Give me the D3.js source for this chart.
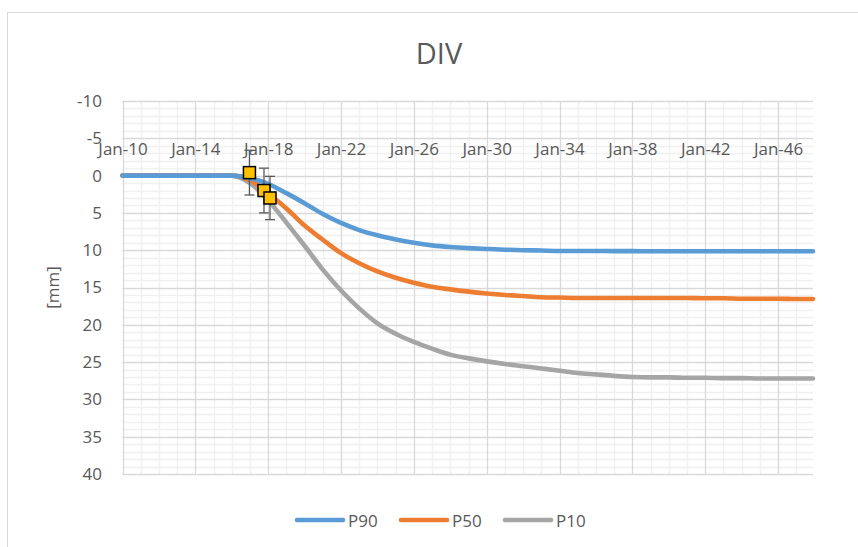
<!DOCTYPE html>
<html>
<head>
<meta charset="utf-8">
<script src="https://cdn.jsdelivr.net/npm/d3@7"></script>
<style>
  html, body { margin: 0; padding: 0; background: #fff; }
  svg { display: block; }
  text { font-family: "Open Sans", "Liberation Sans", sans-serif; fill: #595959; }
</style>
</head>
<body>
<svg id="chart" width="858" height="547"></svg>
<script>
// ---- data ----
const title = "DIV";
const yLabel = "[mm]";
const seriesNames = ["P90", "P50", "P10"];
const seriesColors = ["#5B9BD5", "#ED7D31", "#A5A5A5"];
// decimal years of the samples
const years = [2010, 2011, 2012, 2013, 2014, 2015, 2016, 2017, 2018, 2019, 2020, 2021, 2022, 2023, 2024, 2025, 2026, 2027, 2028, 2029, 2030, 2031, 2032, 2033, 2034, 2035, 2036, 2037, 2038, 2039, 2040, 2041, 2042, 2043, 2044, 2045, 2046, 2047, 2047.92];
const p90 = [0, 0, 0, 0, 0, 0, 0, 0.35, 1.1, 2.35, 3.7, 5.15, 6.35, 7.3, 8.0, 8.55, 9.0, 9.35, 9.57, 9.72, 9.83, 9.93, 10.0, 10.05, 10.1, 10.1, 10.1, 10.12, 10.12, 10.15, 10.15, 10.15, 10.15, 10.15, 10.15, 10.15, 10.15, 10.15, 10.15];
const p50 = [0, 0, 0, 0, 0, 0, 0, 0.6, 2.4, 4.4, 6.7, 8.6, 10.4, 11.75, 12.85, 13.7, 14.35, 14.9, 15.25, 15.55, 15.8, 16.0, 16.15, 16.3, 16.35, 16.4, 16.4, 16.4, 16.4, 16.4, 16.4, 16.4, 16.45, 16.45, 16.5, 16.5, 16.5, 16.55, 16.55];
const p10 = [0, 0, 0, 0, 0, 0, 0, 1.0, 3.3, 6.3, 9.4, 12.6, 15.4, 17.8, 19.8, 21.2, 22.3, 23.2, 24.0, 24.5, 24.9, 25.25, 25.55, 25.85, 26.15, 26.45, 26.65, 26.85, 27.0, 27.05, 27.05, 27.1, 27.1, 27.15, 27.15, 27.2, 27.2, 27.2, 27.2];
// measured points with error bars
const obsYears = [2016.97, 2017.77, 2018.1];
const obsValues = [-0.4, 2.0, 3.0];
const obsErrors = [3, 3, 2.9];
// tick labels
const xTickYears = [2010, 2014, 2018, 2022, 2026, 2030, 2034, 2038, 2042, 2046];
const yTicks = [-10, -5, 0, 5, 10, 15, 20, 25, 30, 35, 40];

// ---- helpers ----
function yearToDate(y) {
  const yi = Math.floor(y);
  const start = new Date(yi, 0, 1), end = new Date(yi + 1, 0, 1);
  return new Date(start.getTime() + (y - yi) * (end - start));
}

const svg = d3.select("#chart");
const plot = { left: 122.5, right: 813, top: 101, bottom: 474 };

// chart frame (extends beyond the visible window on the right/bottom)
svg.append("rect").attr("x", 7.5).attr("y", 12.5).attr("width", 880).attr("height", 560)
  .attr("fill", "#fff").attr("stroke", "#d9d9d9").attr("stroke-width", 1);

const x = d3.scaleTime()
  .domain([yearToDate(years[0]), yearToDate(years[years.length - 1])])
  .range([plot.left, plot.right]);
const y = d3.scaleLinear().domain([-10, 40]).range([plot.top, plot.bottom]);

const grid = svg.append("g");
// minor horizontal gridlines
grid.selectAll("line.ymin").data(d3.range(-10, 41, 1).filter(v => v % 5 !== 0))
  .join("line").attr("x1", plot.left).attr("x2", plot.right)
  .attr("y1", d => Math.round(y(d)) + 0.5).attr("y2", d => Math.round(y(d)) + 0.5)
  .attr("stroke", "#f0f0f0").attr("stroke-width", 1.3);
// minor vertical gridlines (yearly)
const minorYears = d3.range(2010, 2048).filter(v => (v - 2010) % 4 !== 0);
grid.selectAll("line.xmin").data(minorYears)
  .join("line").attr("y1", plot.top).attr("y2", plot.bottom)
  .attr("x1", d => Math.round(x(yearToDate(d))) + 0.5).attr("x2", d => Math.round(x(yearToDate(d))) + 0.5)
  .attr("stroke", "#f0f0f0").attr("stroke-width", 1.3);
// major horizontal gridlines
grid.selectAll("line.ymaj").data(yTicks)
  .join("line").attr("x1", plot.left).attr("x2", plot.right)
  .attr("y1", d => Math.round(y(d)) + 0.5).attr("y2", d => Math.round(y(d)) + 0.5)
  .attr("stroke", "#d9d9d9").attr("stroke-width", 1.3);
// major vertical gridlines
grid.selectAll("line.xmaj").data(xTickYears)
  .join("line").attr("y1", plot.top).attr("y2", plot.bottom)
  .attr("x1", d => Math.round(x(yearToDate(d))) + 0.5).attr("x2", d => Math.round(x(yearToDate(d))) + 0.5)
  .attr("stroke", "#d9d9d9").attr("stroke-width", 1.3);

// y axis labels
const yAxis = d3.axisLeft(y).tickValues(yTicks).tickSize(0).tickPadding(0).tickFormat(d => String(d));
const yg = svg.append("g").attr("transform", `translate(${102},0)`).call(yAxis);
yg.select(".domain").remove();
yg.selectAll("text").attr("font-size", 17).attr("fill", "#595959")
  .attr("font-family", '"Open Sans", sans-serif');

// x axis labels (above the zero line)
const xAxis = d3.axisTop(x).tickValues(xTickYears.map(yearToDate)).tickSize(0).tickPadding(0)
  .tickFormat(d3.timeFormat("%b-%y"));
const xg = svg.append("g").attr("transform", `translate(0,${y(0) - 21})`).call(xAxis);
xg.select(".domain").remove();
xg.selectAll("text").attr("font-size", 17).attr("fill", "#595959")
  .attr("font-family", '"Open Sans", sans-serif');

// series lines
const allSeries = [p90, p50, p10];
const line = d3.line().curve(d3.curveMonotoneX)
  .x((d, i) => x(yearToDate(years[i]))).y(d => y(d));
svg.append("g").selectAll("path").data(allSeries.slice().reverse())
  .join("path")
  .attr("d", d => line(d))
  .attr("fill", "none")
  .attr("stroke", (d, i) => seriesColors[2 - i])
  .attr("stroke-width", 4.6)
  .attr("stroke-linecap", "round").attr("stroke-linejoin", "round");

// error bars and markers
const obs = obsYears.map((yr, i) => ({ x: x(yearToDate(yr)), v: obsValues[i], e: obsErrors[i] }));
const eb = svg.append("g").attr("stroke", "#595959").attr("stroke-width", 1.3);
obs.forEach(o => {
  eb.append("line").attr("x1", o.x).attr("x2", o.x).attr("y1", y(o.v - o.e)).attr("y2", y(o.v + o.e));
  eb.append("line").attr("x1", o.x - 5).attr("x2", o.x + 5).attr("y1", y(o.v - o.e)).attr("y2", y(o.v - o.e));
  eb.append("line").attr("x1", o.x - 5).attr("x2", o.x + 5).attr("y1", y(o.v + o.e)).attr("y2", y(o.v + o.e));
});
svg.append("g").selectAll("rect").data(obs).join("rect")
  .attr("x", d => d.x - 6).attr("y", d => y(d.v) - 6)
  .attr("width", 12).attr("height", 12)
  .attr("fill", "#FFC000").attr("stroke", "#000").attr("stroke-width", 1.5);

// title
svg.append("text").attr("x", 439).attr("y", 63.5).attr("text-anchor", "middle")
  .attr("font-size", 29).text(title);

// y axis title
svg.append("text").attr("transform", `translate(59,${(plot.top + plot.bottom) / 2}) rotate(-90)`)
  .attr("text-anchor", "middle").attr("font-size", 17).text(yLabel);

// legend
const leg = svg.append("g");
seriesNames.forEach((name, i) => {
  const lx = 295 + i * 104;
  leg.append("line").attr("x1", lx + 2).attr("x2", lx + 48).attr("y1", 520).attr("y2", 520)
    .attr("stroke", seriesColors[i]).attr("stroke-width", 4.6).attr("stroke-linecap", "round");
  leg.append("text").attr("x", lx + 53).attr("y", 526.5).attr("font-size", 17).text(name);
});
</script>
</body>
</html>
